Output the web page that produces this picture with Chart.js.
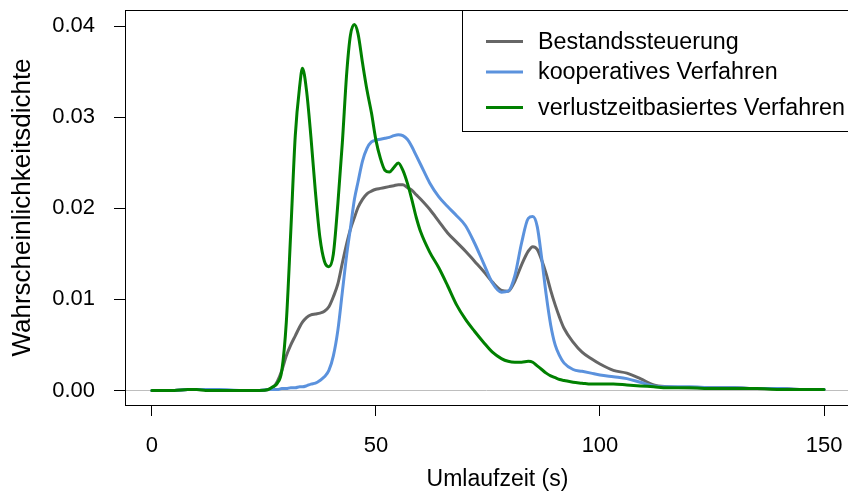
<!DOCTYPE html>
<html>
<head>
<meta charset="utf-8">
<script src="https://cdn.jsdelivr.net/npm/chart.js@4"></script>
<style>
  html, body { margin: 0; padding: 0; background: #fff; }
</style>
</head>
<body>
<canvas id="densityChart" width="848" height="491"></canvas>
<script>
// Umlaufzeit (s) grid shared by the three density curves
const umlaufzeit = [0, 5, 8, 10, 12, 15, 20, 24, 26, 27, 28, 29, 30, 31, 32, 33, 33.6, 34.5, 35.5, 36.5,
  37.5, 38.5, 39.5, 40.5, 41.5, 42.5, 43.5, 44.3, 45.2, 46, 47, 48, 49, 50, 51, 52, 53, 54, 55, 56,
  57, 58, 59, 60, 62, 64, 66, 68, 70, 72, 74, 76, 78, 79.5, 81, 82.5, 84, 85, 86, 87, 88, 89, 90,
  91, 92, 94, 96, 98, 100, 103, 106, 109, 112, 115, 120, 125, 130, 135, 140, 145, 150];

const bestandssteuerung = [0, 0, 0.0001, 0.0001, 0.0001, 0, 0, 0, 0.0001, 0.0003, 0.0010, 0.0022, 0.0038, 0.0050, 0.0060, 0.0070, 0.0075, 0.0080, 0.0083, 0.0084,
  0.0085, 0.0087, 0.0092, 0.0103, 0.0117, 0.0140, 0.0162, 0.0177, 0.0190, 0.0201, 0.0210, 0.0216, 0.0219, 0.0221, 0.0222, 0.0223, 0.0224, 0.0225, 0.0226, 0.0226,
  0.0223, 0.0220, 0.0215, 0.0210, 0.0199, 0.0186, 0.0173, 0.0163, 0.0153, 0.0142, 0.0131, 0.0119, 0.0110, 0.0109, 0.0120, 0.0138, 0.0153, 0.0158, 0.0155, 0.0143, 0.0128, 0.0110, 0.0094,
  0.0080, 0.0068, 0.0053, 0.0042, 0.0035, 0.0029, 0.0022, 0.0019, 0.0013, 0.0006, 0.0004, 0.0003, 0.0003, 0.0003, 0.0002, 0.0002, 0.0001, 0.0001];

const kooperativ = [0, 0, 0.0001, 0.0001, 0.0001, 0.0001, 0, 0, 0.0001, 0.0001, 0.0001, 0.0002, 0.0002, 0.0003, 0.0003, 0.0004, 0.0004, 0.0005, 0.0007, 0.0008,
  0.0011, 0.0015, 0.0022, 0.0038, 0.0066, 0.0108, 0.0150, 0.0178, 0.0210, 0.0229, 0.0252, 0.0266, 0.0273, 0.0275, 0.0276, 0.0277, 0.0278, 0.0280, 0.0281, 0.0280,
  0.0276, 0.0268, 0.0258, 0.0248, 0.0228, 0.0213, 0.0202, 0.0192, 0.0181, 0.0162, 0.0140, 0.0118, 0.0108, 0.0109, 0.0126, 0.0162, 0.0189, 0.0191, 0.0180, 0.0145, 0.0105, 0.0072, 0.0050,
  0.0038, 0.0030, 0.0023, 0.0021, 0.0019, 0.0017, 0.0015, 0.0013, 0.0009, 0.0005, 0.0004, 0.0004, 0.0003, 0.0003, 0.0002, 0.0002, 0.0001, 0.0001];

const verlustzeit = [0, 0, 0.0001, 0.0001, 0, 0, 0, 0, 0.0001, 0.0004, 0.0008, 0.0022, 0.0075, 0.0175, 0.0280, 0.0335, 0.0354, 0.0330, 0.0278, 0.0218,
  0.0168, 0.0142, 0.0136, 0.0150, 0.0205, 0.0272, 0.0350, 0.0390, 0.0402, 0.0392, 0.0360, 0.0330, 0.0305, 0.0275, 0.0255, 0.0242, 0.0240, 0.0245, 0.0250, 0.0242,
  0.0228, 0.0210, 0.0190, 0.0174, 0.0152, 0.0135, 0.0115, 0.0094, 0.0078, 0.0065, 0.0053, 0.0042, 0.0035, 0.0032, 0.0031, 0.0031, 0.0032, 0.0031, 0.0027, 0.0023, 0.0019, 0.0016, 0.0014,
  0.0012, 0.0011, 0.0009, 0.0008, 0.0007, 0.0007, 0.0007, 0.0006, 0.0005, 0.0004, 0.0003, 0.0003, 0.0002, 0.0002, 0.0002, 0.0001, 0.0001, 0.0001];

const seriesLabels = ['Bestandssteuerung', 'kooperatives Verfahren', 'verlustzeitbasiertes Verfahren'];
const xTicks = [0, 50, 100, 150];
const yTicks = [0, 0.01, 0.02, 0.03, 0.04];
const xTitle = 'Umlaufzeit (s)';

const FONT = '"Liberation Sans", Arial, Helvetica, sans-serif';

const toPoints = values => values.map((v, i) => ({ x: umlaufzeit[i], y: v }));

// no automatic label padding, the plot region is fixed like in R
const noScalePadding = scale => {
    scale.paddingTop = 0;
    scale.paddingBottom = 0;
    scale.paddingLeft = 0;
    scale.paddingRight = 0;
};

// R-style frame (runs past the right edge), zero line, x title and legend box
const rFrame = {
    id: 'rFrame',
    beforeDatasetsDraw(chart) {
        const { ctx, chartArea: a, scales: { y } } = chart;
        const y0 = Math.round(y.getPixelForValue(0)) + 0.5;
        ctx.save();
        ctx.strokeStyle = '#bebebe';
        ctx.lineWidth = 1;
        ctx.beginPath();
        ctx.moveTo(a.left, y0);
        ctx.lineTo(a.right, y0);
        ctx.stroke();
        ctx.restore();
    },
    afterDraw(chart) {
        const { ctx, chartArea: a } = chart;
        ctx.save();
        ctx.strokeStyle = '#000';
        ctx.lineWidth = 1;
        ctx.strokeRect(Math.round(a.left) + 0.5, Math.round(a.top) + 0.5, a.width + 20, Math.round(a.bottom - a.top));

        // x axis title, centred on the (cropped) plot region of the original
        ctx.fillStyle = '#000';
        ctx.font = '23px ' + FONT;
        ctx.textAlign = 'center';
        ctx.textBaseline = 'alphabetic';
        ctx.fillText(xTitle, 497.5, 486);

        // legend
        const lx = 462.5;
        ctx.strokeRect(lx, Math.round(a.top) + 0.5, 500, 121);
        const rows = [41.5, 72, 107.5];
        ctx.font = '23.3px ' + FONT;
        ctx.textBaseline = 'middle';
        ctx.textAlign = 'left';
        chart.data.datasets.forEach((ds, i) => {
            ctx.strokeStyle = ds.borderColor;
            ctx.lineWidth = 3;
            ctx.beginPath();
            ctx.moveTo(486, rows[i]);
            ctx.lineTo(523, rows[i]);
            ctx.stroke();
            ctx.fillStyle = '#000';
            ctx.fillText(ds.label, 538, rows[i] + 1);
        });
        ctx.restore();
    }
};

const ctx = document.getElementById('densityChart').getContext('2d');

new Chart(ctx, {
    type: 'line',
    data: {
        datasets: [
            {
                label: seriesLabels[0],
                data: toPoints(bestandssteuerung),
                borderColor: '#666666',
                order: 2
            },
            {
                label: seriesLabels[1],
                data: toPoints(kooperativ),
                borderColor: '#5b92dd',
                order: 1
            },
            {
                label: seriesLabels[2],
                data: toPoints(verlustzeit),
                borderColor: '#008000',
                order: 0
            }
        ]
    },
    options: {
        responsive: false,
        animation: false,
        layout: {
            autoPadding: false,
            padding: { left: 0, top: 10, right: 0, bottom: 0 }
        },
        elements: {
            point: { radius: 0 },
            line: {
                borderWidth: 3,
                cubicInterpolationMode: 'monotone',
                borderCapStyle: 'round',
                borderJoinStyle: 'round',
                fill: false
            }
        },
        plugins: {
            legend: { display: false },
            tooltip: { enabled: false }
        },
        scales: {
            x: {
                type: 'linear',
                min: -6,
                max: 155.35,
                afterBuildTicks: scale => { scale.ticks = xTicks.map(v => ({ value: v })); },
                afterFit: scale => { scale.height = 86; noScalePadding(scale); },
                border: { display: false },
                grid: { drawOnChartArea: false, tickLength: 11, tickColor: '#000', tickWidth: 1 },
                ticks: {
                    color: '#000',
                    padding: 17,
                    maxRotation: 0,
                    autoSkip: false,
                    font: { family: FONT, size: 22 },
                    callback: value => String(value)
                },
                title: { display: false }
            },
            y: {
                min: -0.0016,
                max: 0.0418,
                afterBuildTicks: scale => { scale.ticks = yTicks.map(v => ({ value: v })); },
                afterFit: scale => { scale.width = 125; noScalePadding(scale); },
                border: { display: false },
                grid: { drawOnChartArea: false, tickLength: 11, tickColor: '#000', tickWidth: 1 },
                ticks: {
                    color: '#000',
                    padding: 19,
                    autoSkip: false,
                    font: { family: FONT, size: 22 },
                    callback: value => value.toFixed(2)
                },
                title: {
                    display: true,
                    text: 'Wahrscheinlichkeitsdichte',
                    color: '#000',
                    font: { family: FONT, size: 26 },
                    padding: { top: 7, bottom: 0 }
                }
            }
        }
    },
    plugins: [rFrame]
});
</script>
</body>
</html>
